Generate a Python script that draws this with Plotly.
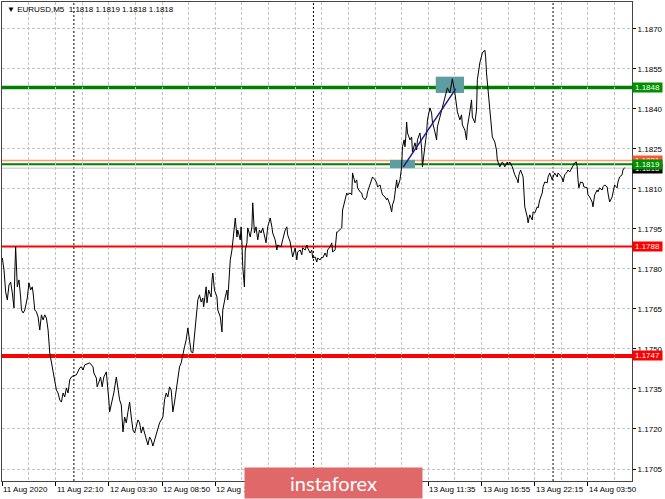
import plotly.graph_objects as go

# ---------------- data ----------------
# M5 bar index counted from 11 Aug 2020 16:50, and close price
bars = [0, 2, 4, 6, 8, 10, 12, 14, 15, 16, 18, 20, 22, 23, 25, 27, 30, 32, 34, 36, 37, 39, 41, 43, 45, 47, 49, 51, 53, 55,
        57, 59, 61, 63, 65, 67, 69, 71, 73, 75, 77, 79, 81, 83, 85, 89, 91, 93, 95, 97, 99, 102, 105, 109, 110, 113, 114,
        117, 118, 120, 122, 125, 126, 128, 129, 131, 134, 137, 139, 141, 143, 145, 147, 149, 151, 153, 155, 157, 159, 161,
        163, 165, 167, 169, 171, 173, 175, 177, 179, 181, 183, 185, 187, 189, 191, 193, 195, 197, 199, 201, 203, 205, 207,
        209, 211, 213, 215, 217, 219, 221, 223, 225, 227, 229, 231, 233, 235, 237,
        239, 241, 242, 245, 246, 248, 251, 252, 253, 255, 258, 259, 262, 264, 265, 268, 270, 271, 274, 276, 277, 280, 282,
        283, 286, 287, 288, 289, 291, 292, 294, 295, 298, 300, 301, 303, 305, 307, 309, 311, 313, 315, 317, 319, 322, 324,
        325, 328, 330, 331, 335, 337, 340, 342, 343, 346, 348, 349, 352, 354, 355, 358, 360, 361, 364, 366, 367, 370, 372,
        373, 376, 378, 379, 382, 384, 385, 388, 390, 391, 394, 396, 397, 400, 402, 403, 406, 408, 409, 412, 414, 415, 418,
        420, 421, 424, 426, 427, 430, 432, 433, 436, 438, 439, 442, 444, 445, 448, 450, 451, 454, 456, 457, 460, 462, 463,
        466, 468, 469, 471, 473, 474, 475, 478, 480, 481, 483, 484, 485, 486, 487, 490, 492, 493, 496, 498, 499, 502, 504,
        505, 507, 510, 511, 514, 516, 517, 520, 522, 523, 526, 528, 529, 532, 534, 535, 538, 540, 541, 544, 546, 547, 550,
        552, 553, 556, 558, 559, 562, 564, 565, 568, 570, 571, 574, 576, 577, 580, 581, 582, 583, 586, 588, 589, 592, 594,
        595, 598, 601, 602, 604, 607, 608, 610, 613, 614, 616, 619, 620, 621, 623, 626, 627, 628, 631, 632, 634, 637, 638,
        640, 643, 644, 646, 649, 650, 652, 655, 656, 658, 661, 662, 664, 667, 668, 670, 673, 674, 676, 679, 680, 682, 685,
        686, 688, 690, 691, 692, 693, 695, 698, 699, 703, 704, 706, 709, 710, 712, 715, 716, 718, 721, 722, 724, 727, 728,
        730, 733, 734, 736, 739, 740, 742, 745, 746, 748]

closes = [1.17841, 1.17796, 1.17714, 1.17684, 1.17740, 1.17751, 1.17710, 1.17654, 1.17785, 1.17883, 1.17733, 1.17759,
          1.17695, 1.17646, 1.17635, 1.17646, 1.17691, 1.17748, 1.17721, 1.17733, 1.17710, 1.17646, 1.17639, 1.17620,
          1.17571, 1.17628, 1.17609, 1.17628, 1.17616, 1.17571, 1.17485, 1.17448, 1.17421, 1.17373, 1.17346, 1.17335,
          1.17309, 1.17301, 1.17335, 1.17320, 1.17354, 1.17335, 1.17384, 1.17395, 1.17399, 1.17403, 1.17414, 1.17429,
          1.17433, 1.17421, 1.17440, 1.17444, 1.17448, 1.17433, 1.17410, 1.17391, 1.17358, 1.17384, 1.17395, 1.17358,
          1.17395, 1.17414, 1.17384, 1.17309, 1.17264, 1.17290, 1.17335, 1.17395, 1.17358, 1.17309, 1.17290, 1.17189,
          1.17245, 1.17223, 1.17264, 1.17301, 1.17245, 1.17196, 1.17185, 1.17208, 1.17234, 1.17223, 1.17185, 1.17208,
          1.17185, 1.17159, 1.17140, 1.17170, 1.17159, 1.17136, 1.17159, 1.17185, 1.17208, 1.17223, 1.17234, 1.17245,
          1.17309, 1.17335, 1.17320, 1.17358, 1.17346, 1.17264, 1.17301, 1.17346, 1.17384, 1.17433, 1.17448, 1.17485,
          1.17508, 1.17534, 1.17579, 1.17534, 1.17489, 1.17485, 1.17560, 1.17620, 1.17684, 1.17703,
          1.17676, 1.17691, 1.17658, 1.17733, 1.17673, 1.17721, 1.17695, 1.17759, 1.17785, 1.17721, 1.17695, 1.17646,
          1.17620, 1.17564, 1.17646, 1.17695, 1.17721, 1.17684, 1.17834, 1.17871, 1.17898, 1.17991, 1.17920, 1.17946,
          1.17909, 1.17958, 1.17898, 1.17808, 1.17733, 1.17871, 1.17898, 1.17954, 1.17920, 1.17958, 1.18048, 1.17935,
          1.17958, 1.17909, 1.17946, 1.17935, 1.17954, 1.17920, 1.17898, 1.17958, 1.17991, 1.17958, 1.17935, 1.17909,
          1.17871, 1.17890, 1.17883, 1.17909, 1.17946, 1.17958, 1.17928, 1.17901, 1.17871, 1.17845, 1.17879, 1.17834,
          1.17864, 1.17871, 1.17853, 1.17879, 1.17871, 1.17890, 1.17879, 1.17860, 1.17871, 1.17841, 1.17845, 1.17826,
          1.17841, 1.17834, 1.17845, 1.17841, 1.17860, 1.17845, 1.17871, 1.17883, 1.17898, 1.17864, 1.17871, 1.17939,
          1.17939, 1.17946, 1.17954, 1.18021, 1.18066, 1.18085, 1.18078, 1.18085, 1.18078, 1.18160, 1.18123, 1.18134,
          1.18104, 1.18089, 1.18085, 1.18070, 1.18059, 1.18070, 1.18089, 1.18115, 1.18134, 1.18145, 1.18134, 1.18123,
          1.18108, 1.18115, 1.18089, 1.18078, 1.18070, 1.18059, 1.18066, 1.18040, 1.18014, 1.18040, 1.18059, 1.18108,
          1.18134, 1.18104, 1.18134, 1.18183, 1.18258, 1.18284, 1.18258, 1.18295, 1.18351, 1.18310, 1.18284, 1.18295,
          1.18239, 1.18273, 1.18246, 1.18284, 1.18310, 1.18254, 1.18183, 1.18235, 1.18310, 1.18359, 1.18404, 1.18385,
          1.18351, 1.18314, 1.18284, 1.18333, 1.18370, 1.18396, 1.18408, 1.18441, 1.18471, 1.18479, 1.18460, 1.18498,
          1.18513, 1.18460, 1.18423, 1.18389, 1.18359, 1.18378, 1.18340, 1.18321, 1.18284, 1.18333, 1.18389, 1.18434,
          1.18370, 1.18348, 1.18396, 1.18509, 1.18573, 1.18595, 1.18610, 1.18621, 1.18595, 1.18535, 1.18498, 1.18385,
          1.18321, 1.18295, 1.18276, 1.18246, 1.18209, 1.18183, 1.18201, 1.18198, 1.18183, 1.18201, 1.18190, 1.18201,
          1.18183, 1.18171, 1.18153, 1.18134, 1.18123, 1.18153, 1.18171, 1.18145, 1.18096, 1.18033, 1.17995, 1.17973,
          1.18003, 1.17984, 1.18014, 1.18010, 1.18033, 1.18029, 1.18059, 1.18085, 1.18108, 1.18126, 1.18123, 1.18145,
          1.18160, 1.18134, 1.18145, 1.18160, 1.18145, 1.18160, 1.18153, 1.18141, 1.18126, 1.18153, 1.18164, 1.18171,
          1.18164, 1.18179, 1.18183, 1.18198, 1.18201, 1.18183, 1.18134, 1.18104, 1.18126, 1.18123, 1.18108, 1.18104,
          1.18078, 1.18070, 1.18051, 1.18033, 1.18078, 1.18096, 1.18089, 1.18104, 1.18096, 1.18108, 1.18115, 1.18108,
          1.18085, 1.18051, 1.18070, 1.18089, 1.18115, 1.18104, 1.18126, 1.18145, 1.18153, 1.18171, 1.18180]

# major time ticks (every 64 bars); labels under the watermark are not visible in the reference
x_tick_bars = [0, 64, 128, 192, 256, 320, 384, 448, 512, 576, 640, 704]
x_tick_labels = ["11 Aug 2020", "11 Aug 22:10", "12 Aug 03:30", "12 Aug 08:50", "12 Aug 14:10", "",
                 "", "", "13 Aug 11:35", "13 Aug 16:55", "13 Aug 22:15", "14 Aug 03:50"]
day_separator_bars = [86, 374, 662]

level_prices = [1.18480, 1.18207, 1.18193, 1.18178, 1.17884, 1.17474]
level_labels = ["1.1848", "1.1821", "1.1819", "1.1818", "1.1788", "1.1747"]

zone_bar_start = [466, 521]
zone_bar_end = [496, 555]
zone_low = [1.18178, 1.18460]
zone_high = [1.18209, 1.18521]

trend_bars = [482, 545]
trend_prices = [1.18183, 1.18475]

title_symbol = "EURUSD,M5"
title_ohlc = [1.1818, 1.1819, 1.1818, 1.1818]
watermark_text = "instaforex"

# ---------------- styles ----------------
level_line_colors = ["#008000", "#ff9a78", "#008000", "#c0c0c0", "#ff0000", "#ff0000"]
level_line_widths = [3.5, 1.5, 2, 1, 2, 4]
level_box_colors = ["#009000", "#ff5533", "#009000", "#000000", "#ff0000", "#ff0000"]
label_draw_order = [0, 1, 3, 2, 4, 5]
FONT = "Liberation Sans, Arial, sans-serif"
GRID = "#c4c4c4"

fig = go.Figure()

fig.add_trace(go.Scatter(x=bars, y=closes, mode="lines",
                         line=dict(color="black", width=1), hoverinfo="skip", showlegend=False))

shapes = []
for b0, b1, lo, hi in zip(zone_bar_start, zone_bar_end, zone_low, zone_high):
    shapes.append(dict(type="rect", xref="x", yref="y", x0=b0, x1=b1, y0=lo, y1=hi,
                       fillcolor="#5f9ea0", line=dict(width=0), layer="between"))
for b in day_separator_bars:
    shapes.append(dict(type="line", xref="x", yref="paper", x0=b, x1=b, y0=0, y1=1,
                       line=dict(color="black", width=1, dash="2px,2px"), layer="between"))
for p, c, w in zip(level_prices, level_line_colors, level_line_widths):
    shapes.append(dict(type="line", xref="paper", yref="y", x0=0, x1=1, y0=p, y1=p,
                       line=dict(color=c, width=w), layer="between"))
shapes.append(dict(type="line", xref="x", yref="y", x0=trend_bars[0], x1=trend_bars[1],
                   y0=trend_prices[0], y1=trend_prices[1],
                   line=dict(color="#1c1c8a", width=1.5), layer="above"))

annotations = []
annotations.append(dict(xref="paper", yref="paper", x=0.005, y=0.985, xanchor="left", yanchor="middle",
                        text="▼ " + title_symbol + "  " + " ".join(f"{v:.4f}" for v in title_ohlc),
                        showarrow=False, font=dict(family=FONT, size=8, color="black")))
for b, t in zip(x_tick_bars, x_tick_labels):
    if not t:
        continue
    annotations.append(dict(xref="x", yref="paper", x=b, y=0, xanchor="left", yanchor="top", yshift=-3,
                            text=t, showarrow=False, borderpad=0,
                            font=dict(family=FONT, size=8, color="black")))
for i in label_draw_order:
    annotations.append(dict(xref="paper", yref="y", x=1, y=level_prices[i], xanchor="left", yanchor="middle",
                            text=level_labels[i], showarrow=False, bgcolor=level_box_colors[i],
                            width=29, height=9, borderpad=0, align="center",
                            font=dict(family=FONT, size=8, color="white")))
annotations.append(dict(xref="paper", yref="paper", x=0.5262, y=-0.0042, xanchor="center", yanchor="middle",
                        text=watermark_text, showarrow=False, bgcolor="#e06868", width=177, height=30,
                        borderpad=0, font=dict(family="Lato, Open Sans, sans-serif", size=20, color="white")))

fig.update_layout(
    width=665, height=499,
    margin=dict(l=2, r=33, t=2, b=18),
    paper_bgcolor="white", plot_bgcolor="white",
    shapes=shapes, annotations=annotations,
    showlegend=False,
    xaxis=dict(range=[-0.4, 756.9], tickmode="linear", tick0=0, dtick=64, showticklabels=False,
               ticks="outside", ticklen=4, tickcolor="black",
               showgrid=True, gridcolor=GRID, griddash="3px,2px", gridwidth=1,
               minor=dict(tick0=0, dtick=32, showgrid=True, gridcolor=GRID, griddash="3px,2px", ticks=""),
               showline=True, mirror=True, linecolor="#444444", linewidth=1, zeroline=False),
    yaxis=dict(range=[1.17005, 1.18801], side="right", tickmode="linear", tick0=1.1705, dtick=0.0015,
               tickformat=".4f", ticks="outside", ticklen=3, tickcolor="black",
               tickfont=dict(family=FONT, size=8, color="black"),
               showgrid=True, gridcolor=GRID, griddash="3px,2px", gridwidth=1,
               showline=True, mirror=True, linecolor="#444444", linewidth=1, zeroline=False),
)

fig.write_html("out.html", config={"displayModeBar": False},
               post_script="document.body.style.margin='0';document.body.style.overflow='hidden';")
